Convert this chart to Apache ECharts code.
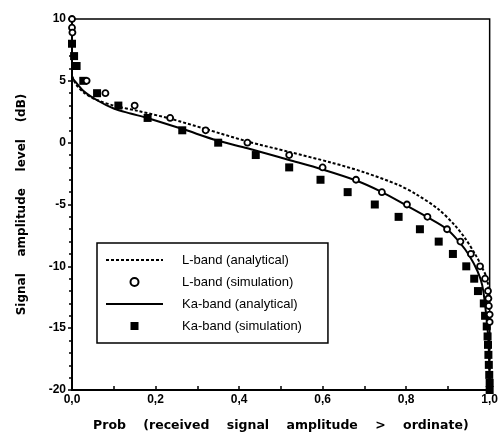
<!DOCTYPE html>
<html>
<head>
<meta charset="utf-8">
<script src="https://cdn.jsdelivr.net/npm/echarts@6/dist/echarts.min.js"></script>
<style>
html,body{margin:0;padding:0;background:#fff;}
#c{width:501px;height:442px;}
</style>
</head>
<body>
<div id="c"></div>
<script>
// ---- data ----
const seriesNames = ['L-band (analytical)', 'L-band (simulation)', 'Ka-band (analytical)', 'Ka-band (simulation)'];

const lBandAnalytical = [
  [0, 5.4], [0.01, 4.7], [0.03, 4.0], [0.06, 3.45], [0.10, 3.0], [0.16, 2.55],
  [0.234, 1.95], [0.32, 1.1], [0.42, 0.1], [0.52, -0.75], [0.62, -1.6], [0.70, -2.4],
  [0.78, -3.4], [0.823, -4.15], [0.876, -5.35], [0.916, -6.66], [0.941, -7.72],
  [0.966, -9.06], [0.982, -10.1], [0.995, -11.2], [0.999, -14], [1.0, -20]
];

const lBandSimulation = [
  [0, 10], [0, 9.3], [0.001, 8.9], [0.035, 5.0], [0.08, 4.0], [0.15, 3.0], [0.235, 2.0],
  [0.32, 1.0], [0.42, 0], [0.52, -1], [0.60, -2], [0.68, -3], [0.742, -4], [0.802, -5],
  [0.851, -6], [0.898, -7], [0.93, -8], [0.955, -9], [0.977, -10], [0.989, -11],
  [0.996, -12], [0.997, -12.6], [0.998, -13.2], [1.0, -13.9], [1.0, -14.5]
];

const kaBandAnalytical = [
  [0, 5.3], [0.004, 5.1], [0.027, 4.2], [0.06, 3.43], [0.10, 2.76], [0.14, 2.36],
  [0.18, 2.0], [0.265, 1.1], [0.35, 0.15], [0.42, -0.45], [0.52, -1.4], [0.60, -2.17],
  [0.68, -3.06], [0.74, -3.96], [0.80, -5.07], [0.851, -6.03], [0.898, -7.0],
  [0.93, -8.14], [0.95, -9.07], [0.971, -10.4], [0.982, -11.5], [0.989, -13.1],
  [0.997, -16], [1.0, -20]
];

const kaBandSimulation = [
  [0, 8], [0.005, 7], [0.011, 6.2], [0.027, 5.0], [0.06, 4.0], [0.111, 3.0], [0.181, 2.0],
  [0.264, 1.0], [0.35, 0], [0.44, -1.0], [0.52, -2.0], [0.595, -3.0], [0.66, -4.0],
  [0.725, -5.0], [0.782, -6.0], [0.833, -7.0], [0.878, -8.0], [0.912, -9.0],
  [0.944, -10.0], [0.963, -11.0], [0.972, -12.0], [0.986, -13.0], [0.989, -14.0],
  [0.993, -14.86], [0.995, -15.67], [0.996, -16.35], [0.997, -17.16], [0.998, -17.97],
  [0.999, -18.78], [1.0, -19.43], [1.0, -20]
];

const xTicks = [0, 0.2, 0.4, 0.6, 0.8, 1.0];
const yTicks = [-20, -15, -10, -5, 0, 5, 10];
const xAxisName = 'Prob    (received    signal    amplitude    >    ordinate)';
const yAxisName = 'Signal    amplitude    level    (dB)';

// ---- chart ----
const chart = echarts.init(document.getElementById('c'), null, {renderer: 'canvas'});
const FONT = '"Liberation Sans", Arial, sans-serif';
const NAMEFONT = '"DejaVu Sans", sans-serif';

chart.setOption({
  backgroundColor: '#fff',
  animation: false,
  grid: {left: 72, right: 9, top: 19, bottom: 52, show: true, borderColor: '#000', borderWidth: 1.5},
  xAxis: {
    type: 'value', min: xTicks[0], max: xTicks[xTicks.length - 1], interval: 0.2,
    name: xAxisName, nameLocation: 'middle', nameGap: 29,
    nameTextStyle: {fontFamily: NAMEFONT, fontWeight: 'bold', fontSize: 12.5, color: '#000'},
    axisLine: {onZero: false, lineStyle: {color: '#000', width: 2}},
    axisTick: {inside: true, length: 4, lineStyle: {color: '#000', width: 1.5}},
    minorTick: {show: true, splitNumber: 2, length: 4, lineStyle: {color: '#000', width: 1.5}},
    splitLine: {show: false},
    axisLabel: {fontFamily: FONT, fontWeight: 'bold', fontSize: 12, color: '#000', margin: 4,
      formatter: v => v.toFixed(1).replace('.', ',')}
  },
  yAxis: {
    type: 'value', min: yTicks[0], max: yTicks[yTicks.length - 1], interval: 5,
    name: yAxisName, nameLocation: 'middle', nameGap: 44,
    nameTextStyle: {fontFamily: NAMEFONT, fontWeight: 'bold', fontSize: 12, color: '#000'},
    axisLine: {onZero: false, lineStyle: {color: '#000', width: 2}},
    axisTick: {inside: false, length: 4, lineStyle: {color: '#000', width: 1.5}},
    minorTick: {show: true, splitNumber: 5, length: 3, lineStyle: {color: '#000', width: 1.5}},
    splitLine: {show: false},
    axisLabel: {fontFamily: FONT, fontWeight: 'bold', fontSize: 12, color: '#000', margin: 6}
  },
  legend: {
    orient: 'vertical', left: 97, top: 243,
    padding: [10, 26, 10, 8], itemGap: 8, itemWidth: 57, itemHeight: 8,
    borderColor: '#000', borderWidth: 1.5, backgroundColor: '#fff',
    textStyle: {fontFamily: FONT, fontSize: 13, color: '#000', padding: [0, 0, 0, 14], lineHeight: 14},
    data: [
      {name: seriesNames[0], itemStyle: {opacity: 0}},
      {name: seriesNames[1]},
      {name: seriesNames[2], itemStyle: {opacity: 0}},
      {name: seriesNames[3], icon: 'path://M0,0H8V8H0Z'}
    ]
  },
  series: [
    {name: seriesNames[0], type: 'line', data: lBandAnalytical, smooth: 0.3, symbol: 'none',
     lineStyle: {color: '#000', width: 2, type: [3, 2]}, itemStyle: {color: '#000'}, z: 2},
    {name: seriesNames[2], type: 'line', data: kaBandAnalytical, smooth: 0.3, symbol: 'none',
     lineStyle: {color: '#000', width: 2, type: 'solid'}, itemStyle: {color: '#000'}, z: 2},
    {name: seriesNames[3], type: 'scatter', data: kaBandSimulation, symbol: 'rect', symbolSize: 8,
     itemStyle: {color: '#000', opacity: 1}, z: 3},
    {name: seriesNames[1], type: 'scatter', data: lBandSimulation, symbol: 'circle', symbolSize: 6,
     itemStyle: {color: '#fff', borderColor: '#000', borderWidth: 1.8, opacity: 1}, z: 4}
  ]
});
</script>
</body>
</html>
